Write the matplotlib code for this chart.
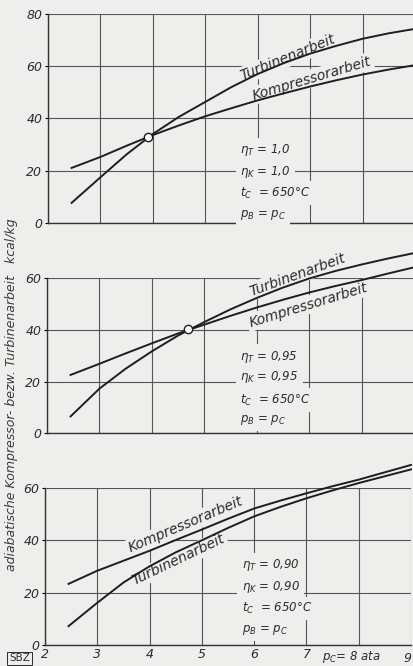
import matplotlib
matplotlib.use("Agg")
import matplotlib.pyplot as plt

plt.rcParams['font.family'] = ['DejaVu Sans']
plt.rcParams['mathtext.fontset'] = 'dejavusans'

# Druckverhaeltnis p_C (ata)
p_c = [2.45, 3, 3.5, 4, 4.5, 5, 5.5, 6, 6.5, 7, 7.5, 8, 8.5, 9]

# eta = 1,0
komp_100 = [21.0, 25.2, 29.5, 33.6, 37.3, 40.8, 43.9, 46.9, 49.6, 52.2, 54.6, 56.8, 58.7, 60.4]
turb_100 = [7.6, 17.4, 26.2, 34.0, 40.6, 46.3, 52.0, 57.0, 61.2, 64.8, 67.8, 70.5, 72.6, 74.3]
# eta = 0,95
komp_095 = [22.6, 26.9, 30.9, 34.8, 38.6, 42.0, 45.4, 48.6, 51.6, 54.4, 56.9, 59.2, 61.7, 64.1]
turb_095 = [6.6, 17.3, 25.0, 31.7, 37.8, 43.0, 47.9, 52.3, 56.3, 59.8, 62.7, 65.2, 67.5, 69.6]
# eta = 0,90
komp_090 = [23.3, 28.3, 32.1, 35.9, 40.0, 44.0, 48.1, 52.0, 55.0, 57.8, 60.5, 63.0, 65.8, 68.6]
turb_090 = [7.2, 16.1, 23.8, 30.0, 35.3, 39.9, 44.6, 49.0, 52.6, 55.9, 58.9, 61.7, 64.3, 66.9]

# Schnittpunkte (Kreis)
schnitt_100 = (3.9, 32.9)
schnitt_095 = (4.68, 40.2)

eta_labels = ['1,0', '0,95', '0,90']
x_ticks = [2, 3, 4, 5, 6, 7, 8, 9]
x_ticklabels = ['2', '3', '4', '5', '6', '7', '', '']

bg = '#eeeeec'
ink = '#2b2b2b'
grid_c = '#555555'

fig = plt.figure(figsize=(4.13, 6.66), dpi=100, facecolor=bg)

panels = [
    dict(rect=[0.1162, 0.6656, 0.8886, 0.3134], ymax=80, k=komp_100, t=turb_100, circ=schnitt_100,
         t_lab=(6.58, 63.3, 22), k_lab=(7.03, 55.3, 16.6), par=(5.66, [27.9, 19.4, 11.4, 3.0])),
    dict(rect=[0.1138, 0.3491, 0.8886, 0.2335], ymax=60, k=komp_095, t=turb_095, circ=schnitt_095,
         t_lab=(6.77, 61.2, 20), k_lab=(6.98, 49.6, 17), par=(5.69, [29.7, 21.9, 12.9, 5.2])),
    dict(rect=[0.1090, 0.0315, 0.8862, 0.2365], ymax=60, k=komp_090, t=turb_090, circ=None,
         t_lab=(4.55, 32.5, 25.5), k_lab=(4.69, 45.8, 23), par=(5.76, [30.5, 22.2, 14.0, 5.7])),
]

box = dict(facecolor=bg, edgecolor='none', pad=1.5)

for i, p in enumerate(panels):
    ax = fig.add_axes(p['rect'])
    ax.set_facecolor('none')
    ax.set_xlim(2, 9)
    ax.set_ylim(0, p['ymax'])
    ax.set_axisbelow(True)
    ax.set_xticks(x_ticks)
    ax.set_yticks(range(0, p['ymax'] + 1, 20))
    ax.grid(True, color=grid_c, lw=0.8)
    for s in ['top', 'right']:
        ax.spines[s].set_visible(False)
    for s in ['left', 'bottom']:
        ax.spines[s].set_color('#333333')
        ax.spines[s].set_linewidth(1.0)
    ax.tick_params(axis='y', length=2, width=0.8, pad=2, labelsize=9, labelcolor=ink)
    for lab in ax.get_yticklabels():
        lab.set_fontstyle('italic')
    if i < 2:
        ax.tick_params(axis='x', length=0, labelbottom=False)
    else:
        ax.set_xticklabels(x_ticklabels)
        ax.tick_params(axis='x', length=0, pad=2, labelsize=9, labelcolor=ink)
        for lab in ax.get_xticklabels():
            lab.set_fontstyle('italic')
        ax.text(7.85, -0.025, r'$p_C$= 8 ata', transform=ax.get_xaxis_transform(),
                ha='center', va='top', fontsize=8.5, style='italic', color=ink)
        ax.text(8.93, -0.045, '9', transform=ax.get_xaxis_transform(),
                ha='center', va='top', fontsize=9, style='italic', color=ink)

    ax.plot(p_c, p['k'], color='#1e1e1e', lw=1.4, zorder=4, clip_on=False)
    ax.plot(p_c, p['t'], color='#1e1e1e', lw=1.4, zorder=4, clip_on=False)
    if p['circ'] is not None:
        ax.plot(*p['circ'], 'o', ms=6, mfc='white', mec='#1e1e1e', mew=1.0, zorder=5, clip_on=False)

    tx, ty, tr = p['t_lab']
    ax.text(tx, ty, 'Turbinenarbeit', rotation=tr, rotation_mode='anchor', ha='center', va='center',
            fontsize=10, style='italic', color=ink, bbox=box, zorder=3)
    kx, ky, kr = p['k_lab']
    ax.text(kx, ky, 'Kompressorarbeit', rotation=kr, rotation_mode='anchor', ha='center', va='center',
            fontsize=10, style='italic', color=ink, bbox=box, zorder=3)

    px, pys = p['par']
    e = eta_labels[i]
    par_texts = [r'$\eta_T$ = ' + e, r'$\eta_K$ = ' + e, r'$t_C$  = 650°C', r'$p_B$ = $p_C$']
    for txt, py in zip(par_texts, pys):
        ax.text(px, py, txt, ha='left', va='center', fontsize=8.5, style='italic', color=ink,
                bbox=dict(facecolor=bg, edgecolor='none', pad=3), zorder=3)

fig.text(0.027, 0.408, 'adiabatische Kompressor- bezw. Turbinenarbeit   kcal/kg', rotation=90,
         ha='center', va='center', fontsize=9, style='italic', color='#3a3a3a')
fig.text(0.047, 0.0115, 'SBZ', ha='center', va='center', fontsize=7.5, color=ink,
         bbox=dict(facecolor='none', edgecolor=ink, lw=0.7, pad=1.2))

fig.savefig('out.png', dpi=100, facecolor=bg)
